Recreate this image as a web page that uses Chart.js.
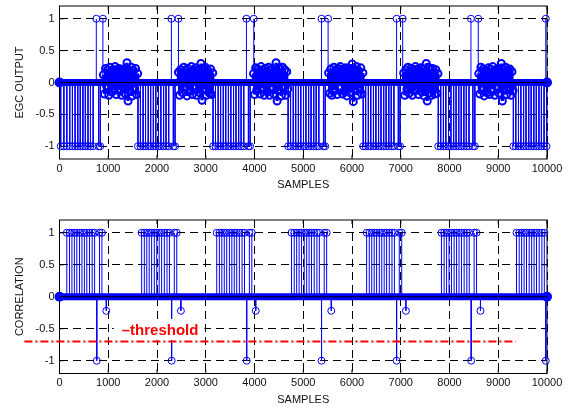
<!DOCTYPE html>
<html>
<head>
<meta charset="utf-8">
<script src="https://cdn.jsdelivr.net/npm/chart.js@4.4.1/dist/chart.umd.min.js"></script>
<style>
  html, body { margin: 0; padding: 0; background: #fff; }
  #wrap { position: relative; width: 571px; height: 410px; }
  canvas { position: absolute; left: 0; display: block; }
</style>
</head>
<body>
<div id="wrap">
  <canvas id="chart-egc" width="571" height="205" style="top:0"></canvas>
  <canvas id="chart-corr" width="571" height="205" style="top:205px"></canvas>
</div>
<script>
// axis ticks
const xTicks = [0, 1000, 2000, 3000, 4000, 5000, 6000, 7000, 8000, 9000, 10000];
const yTicks = [-1, -0.5, 0, 0.5, 1];

// --- EGC OUTPUT ---
const egcHighX = [755, 890, 2295, 2440, 3835, 3985, 5375, 5510, 6915, 7040, 8440, 8590, 9975];
const egcLowX = [
  25, 90, 150, 210, 265, 320, 375, 425, 480, 530, 585, 635, 690, 800, 835,
  1610, 1660, 1715, 1765, 1820, 1870, 1925, 1975, 2030, 2080, 2135, 2185, 2240, 2335, 2370,
  3150, 3200, 3255, 3305, 3360, 3410, 3465, 3515, 3570, 3620, 3675, 3725, 3780, 3875, 3910,
  4690, 4740, 4795, 4845, 4900, 4950, 5005, 5055, 5110, 5160, 5215, 5265, 5320, 5415, 5450,
  6230, 6280, 6335, 6385, 6440, 6490, 6545, 6595, 6650, 6700, 6755, 6805, 6860, 6950, 6985,
  7770, 7820, 7875, 7925, 7980, 8030, 8085, 8135, 8190, 8240, 8295, 8345, 8400, 8480, 8520,
  9310, 9360, 9415, 9465, 9520, 9570, 9625, 9675, 9730, 9780, 9835, 9885, 9940, 9990
];
const egcNoiseStart = [900, 2440, 3980, 5520, 7060, 8600];
const egcNoiseStep = 22;
const egcNoise = [
  [0.12, -0.18, 0.22, -0.05, 0.2, -0.2, 0.24, 0.14, -0.15, 0.2, -0.1, 0.25, -0.19, 0.18, 0.22, -0.12, 0.21,
   -0.2, 0.2, 0.12, -0.17, 0.23, 0.31, -0.29, 0.2, -0.14, 0.24, -0.21, 0.19, -0.08, 0.22, -0.19, 0.14],
  [0.16, -0.2, 0.2, 0.15, -0.16, 0.24, -0.08, 0.2, -0.21, 0.22, 0.13, -0.13, 0.25, -0.19, 0.19, -0.05, 0.23,
   -0.2, 0.18, 0.21, -0.16, 0.3, -0.28, 0.2, -0.11, 0.24, -0.2, 0.2, 0.14, -0.17, 0.21, -0.19, 0.15],
  [0.14, -0.19, 0.23, -0.12, 0.21, 0.12, -0.18, 0.25, -0.09, 0.2, -0.2, 0.22, 0.17, -0.15, 0.24, -0.2, 0.2,
   -0.07, 0.21, -0.18, 0.19, 0.31, -0.29, 0.23, -0.13, 0.21, -0.21, 0.24, -0.06, 0.2, -0.2, 0.17, -0.1],
  [0.15, -0.17, 0.21, -0.2, 0.14, 0.24, -0.12, 0.2, -0.19, 0.22, -0.06, 0.25, 0.16, -0.18, 0.21, -0.14, 0.23,
   -0.21, 0.2, 0.13, -0.16, 0.22, 0.29, -0.3, 0.2, -0.12, 0.25, -0.2, 0.18, -0.09, 0.23, -0.18, 0.15],
  [0.15, -0.2, 0.2, -0.1, 0.24, -0.17, 0.13, 0.22, -0.2, 0.2, -0.13, 0.25, -0.07, 0.21, -0.19, 0.19, 0.23,
   -0.15, 0.21, -0.21, 0.15, 0.3, -0.29, 0.24, -0.16, 0.2, -0.2, 0.22, 0.15, -0.18, 0.2, -0.17, 0.14],
  [0.14, -0.18, 0.24, -0.08, 0.21, -0.21, 0.19, 0.13, -0.16, 0.23, -0.19, 0.21, -0.11, 0.25, 0.17, -0.2, 0.2,
   -0.06, 0.22, -0.17, 0.19, 0.3, -0.29, 0.21, -0.12, 0.24, -0.19, 0.2, -0.09, 0.21, -0.2, 0.17, -0.13]
];

// --- CORRELATION ---
const corrHighX = [
  150, 205, 255, 305, 355, 410, 460, 510, 560, 615, 670, 720, 820, 870,
  1685, 1740, 1790, 1840, 1890, 1945, 1995, 2045, 2095, 2150, 2205, 2255, 2355, 2405,
  3225, 3280, 3330, 3380, 3430, 3485, 3535, 3585, 3635, 3690, 3745, 3795, 3895, 3945,
  4760, 4815, 4865, 4915, 4965, 5020, 5070, 5120, 5170, 5225, 5280, 5330, 5430, 5480,
  6300, 6355, 6405, 6455, 6505, 6560, 6610, 6660, 6710, 6765, 6820, 6870, 6970, 7020,
  7835, 7890, 7940, 7990, 8040, 8095, 8145, 8195, 8245, 8300, 8355, 8405, 8505, 8555,
  9375, 9430, 9480, 9530, 9580, 9635, 9685, 9735, 9785, 9840, 9895, 9945
];
const corrLowX = [765, 2300, 3840, 5375, 6915, 8445, 9975];
const corrDipX = [960, 2490, 4025, 5575, 7105, 8635];
const corrDipY = [-0.22, -0.22, -0.22, -0.22, -0.22, -0.22];

const threshold = -0.7;
const thresholdSpan = [-720, 9360];
const thresholdText = '\u2013threshold';
const thresholdTextAt = { x: 1277, y: -0.52 };

const FONT = { family: 'Arial, "Liberation Sans", Helvetica, sans-serif', size: 11 };
const INK = '#111';
const BLUE = '#0000ff';

// stems: (x,0) -> (x,v), broken by a gap
function stemPoints(xs, ys) {
  const pts = [];
  xs.forEach((x, i) => { pts.push({ x, y: 0 }, { x, y: ys[i] }, { x, y: null }); });
  return pts;
}

function stemSets(xs, ys, stemWidth, ringWidth, order) {
  return [
    { data: stemPoints(xs, ys), showLine: true, spanGaps: false, borderColor: BLUE, borderWidth: stemWidth,
      pointRadius: 0, order: order + 1 },
    { data: xs.map((x, i) => ({ x, y: ys[i] })), showLine: false, pointRadius: 3.5, pointBorderWidth: ringWidth,
      borderColor: BLUE, pointBackgroundColor: 'rgba(0,0,0,0)', clip: false, order }
  ];
}

function baseLines() {
  return [
    { data: [{ x: 0, y: 0 }, { x: 10000, y: 0 }], showLine: true, borderColor: BLUE, borderWidth: 7,
      pointRadius: 5, pointBorderWidth: 0, pointBackgroundColor: BLUE, clip: false, order: 2 },
    { data: [{ x: 0, y: 0 }, { x: 10000, y: 0 }], showLine: true, borderColor: '#000', borderWidth: 1,
      pointRadius: 0, order: 1 }
  ];
}

function buildScales(yTitle, xHeight, xTitlePad) {
  const grid = { color: '#000', lineWidth: 1, drawTicks: false };
  const border = { display: false, dash: [8, 5] };
  return {
    x: {
      type: 'linear', min: 0, max: 10000,
      afterBuildTicks: s => { s.ticks = xTicks.map(v => ({ value: v })); },
      afterFit: s => { s.height = xHeight; s.paddingLeft = 0; s.paddingRight = 0; },
      ticks: { padding: 3, color: INK, font: FONT, maxRotation: 0, autoSkip: false, callback: v => String(v) },
      grid, border,
      title: { display: true, text: 'SAMPLES', color: INK, font: FONT, padding: { top: 0, bottom: xTitlePad } }
    },
    y: {
      type: 'linear', min: -1.2, max: 1.2,
      afterBuildTicks: s => { s.ticks = yTicks.map(v => ({ value: v })); },
      afterFit: s => { s.width = 59.5; s.paddingTop = 0; s.paddingBottom = 0; },
      ticks: { padding: 5, color: INK, font: FONT, callback: v => String(v) },
      grid, border,
      title: { display: true, text: yTitle, color: INK, font: FONT, padding: { top: 13.4, bottom: 0 } }
    }
  };
}

// box round the axes, with small inward ticks
const frameBox = {
  id: 'frameBox',
  beforeDatasetsDraw(chart) {
    const { ctx, chartArea: a, scales } = chart;
    ctx.save();
    ctx.strokeStyle = '#000';
    ctx.lineWidth = 1;
    ctx.strokeRect(a.left, a.top, a.right - a.left, a.bottom - a.top);
    ctx.beginPath();
    scales.x.ticks.forEach(t => {
      const px = scales.x.getPixelForValue(t.value);
      ctx.moveTo(px, a.bottom); ctx.lineTo(px, a.bottom - 4);
      ctx.moveTo(px, a.top); ctx.lineTo(px, a.top + 4);
    });
    scales.y.ticks.forEach(t => {
      const py = scales.y.getPixelForValue(t.value);
      ctx.moveTo(a.left, py); ctx.lineTo(a.left + 4, py);
      ctx.moveTo(a.right, py); ctx.lineTo(a.right - 4, py);
    });
    ctx.stroke();
    ctx.restore();
  }
};

const thresholdNote = {
  id: 'thresholdNote',
  afterDatasetsDraw(chart, args, opts) {
    const { ctx, scales: { x, y } } = chart;
    const px = x.getPixelForValue(opts.x);
    const py = y.getPixelForValue(opts.y);
    ctx.save();
    ctx.font = 'bold 15px Arial, "Liberation Sans", Helvetica, sans-serif';
    const w = ctx.measureText(opts.text).width;
    ctx.fillStyle = '#fff';
    ctx.fillRect(px - 8, py - 11, w + 14, 21);
    ctx.fillStyle = '#ff0000';
    ctx.textBaseline = 'middle';
    ctx.fillText(opts.text, px, py + 1);
    ctx.restore();
  }
};

function commonOptions(yTitle, padTop, xHeight, xTitlePad) {
  return {
    responsive: false,
    animation: false,
    devicePixelRatio: 1,
    events: [],
    layout: { padding: { top: padTop, right: 24, bottom: 0, left: 0 } },
    plugins: { legend: { display: false }, tooltip: { enabled: false } },
    scales: buildScales(yTitle, xHeight, xTitlePad)
  };
}

// top: EGC output
function renderEgc(ctx) {
  const xs = [], ys = [];
  egcHighX.forEach(x => { xs.push(x); ys.push(1); });
  egcLowX.forEach(x => { xs.push(x); ys.push(-1); });
  const nx = [], ny = [];
  egcNoise.forEach((block, b) => {
    block.forEach((v, i) => { nx.push(egcNoiseStart[b] + i * egcNoiseStep); ny.push(v); });
  });
  const datasets = [
    ...stemSets(xs, ys, 1, 1, 5),
    ...stemSets(nx, ny, 3.2, 2, 3),
    ...baseLines()
  ];
  return new Chart(ctx, {
    type: 'scatter',
    data: { datasets },
    options: commonOptions('EGC OUTPUT', 5, 46, 13.4),
    plugins: [frameBox]
  });
}

// bottom: correlation + threshold
function renderCorr(ctx) {
  const xs = [], ys = [];
  corrHighX.forEach(x => { xs.push(x); ys.push(1); });
  corrLowX.forEach(x => { xs.push(x); ys.push(-1); });
  corrDipX.forEach((x, i) => { xs.push(x); ys.push(corrDipY[i]); });
  const datasets = [...stemSets(xs, ys, 1, 1, 3), ...baseLines()];
  datasets.push({
    data: thresholdSpan.map(x => ({ x, y: threshold })), showLine: true, borderColor: '#ff0000',
    borderWidth: 2, borderDash: [8, 3, 2, 3], pointRadius: 0, clip: false, order: 0
  });
  const options = commonOptions('CORRELATION', 15, 36.5, 3.4);
  options.plugins.thresholdNote = { text: thresholdText, x: thresholdTextAt.x, y: thresholdTextAt.y };
  return new Chart(ctx, {
    type: 'scatter',
    data: { datasets },
    options,
    plugins: [frameBox, thresholdNote]
  });
}

renderEgc(document.getElementById('chart-egc'));
renderCorr(document.getElementById('chart-corr'));
</script>
</body>
</html>
